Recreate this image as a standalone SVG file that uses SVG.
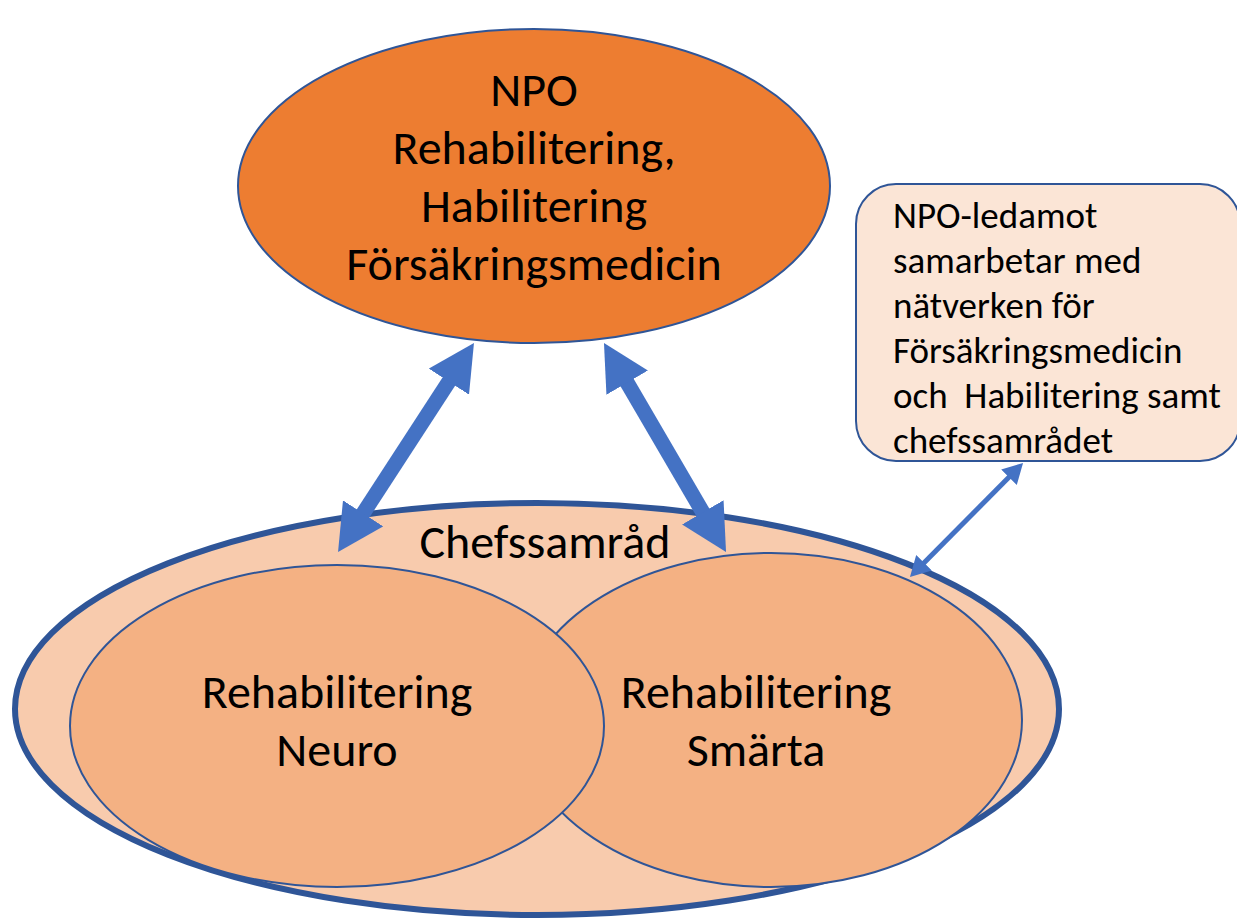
<svg xmlns="http://www.w3.org/2000/svg" width="1237" height="922" viewBox="0 0 1237 922">
  <style>
    .lbl { font-family: Calibri, Carlito, "Liberation Sans", Arial, sans-serif; fill: #000; }
    .big { font-size: 48px; text-anchor: middle; }
    .note { font-size: 37px; white-space: pre; }
    .edge { stroke: #2F5597; }
    .conn { stroke: #4472C4; fill: none; }
  </style>
  <defs>
    <marker id="headL" viewBox="0 -24 46 48" refX="16" refY="0" markerWidth="46" markerHeight="48" markerUnits="userSpaceOnUse" orient="auto-start-reverse">
      <path d="M0,-24 L46,0 L0,24 Z" fill="#4472C4"/>
    </marker>
    <marker id="headS" viewBox="0 -11 20 22" refX="8" refY="0" markerWidth="20" markerHeight="22" markerUnits="userSpaceOnUse" orient="auto-start-reverse">
      <path d="M0,-11 L20,0 L0,11 Z" fill="#4472C4"/>
    </marker>
  </defs>

  <!-- Chefssamråd: outer council -->
  <g id="chefssamrad">
    <ellipse cx="537" cy="709" rx="522" ry="206" fill="#F8CBAD" class="edge" stroke-width="6"/>
  </g>

  <!-- Rehabilitering Smärta -->
  <g id="smarta">
    <ellipse cx="771" cy="720" rx="251" ry="167" fill="#F4B183" class="edge" stroke-width="2"/>
    <text class="lbl big" x="756" y="708">Rehabilitering</text>
    <text class="lbl big" x="756" y="766">Smärta</text>
  </g>

  <!-- Rehabilitering Neuro -->
  <g id="neuro">
    <ellipse cx="337" cy="726" rx="267" ry="161" fill="#F4B183" class="edge" stroke-width="2"/>
    <text class="lbl big" x="337" y="708">Rehabilitering</text>
    <text class="lbl big" x="337" y="766">Neuro</text>
  </g>

  <g id="chefssamrad-label">
    <text class="lbl big" x="545" y="558">Chefssamråd</text>
  </g>

  <!-- NPO -->
  <g id="npo">
    <ellipse cx="534" cy="186" rx="296" ry="157" fill="#ED7D31" class="edge" stroke-width="2"/>
    <text class="lbl big" x="534" y="106">NPO</text>
    <text class="lbl big" x="534" y="164">Rehabilitering,</text>
    <text class="lbl big" x="534" y="222">Habilitering</text>
    <text class="lbl big" x="534" y="280">Försäkringsmedicin</text>
  </g>

  <!-- Note box -->
  <g id="note">
    <rect x="856" y="184" width="384" height="277" rx="40" ry="40" fill="#FBE5D6" class="edge" stroke-width="2"/>
    <text class="lbl note" x="893" y="228">NPO-ledamot</text>
    <text class="lbl note" x="893" y="273">samarbetar med</text>
    <text class="lbl note" x="893" y="318">nätverken för</text>
    <text class="lbl note" x="893" y="363">Försäkringsmedicin</text>
    <text class="lbl note" x="893" y="408">och  Habilitering samt</text>
    <text class="lbl note" x="893" y="453">chefssamrådet</text>
  </g>

  <!-- Connectors -->
  <g id="connectors">
    <line class="conn" x1="354.4" y1="526.8" x2="457.6" y2="368.2" stroke-width="15" marker-start="url(#headL)" marker-end="url(#headL)"/>
    <line class="conn" x1="619.1" y1="368.9" x2="710.9" y2="526.1" stroke-width="15" marker-start="url(#headL)" marker-end="url(#headL)"/>
    <line class="conn" x1="1014.6" y1="471.5" x2="918.4" y2="568.5" stroke-width="5" marker-start="url(#headS)" marker-end="url(#headS)"/>
  </g>
</svg>
